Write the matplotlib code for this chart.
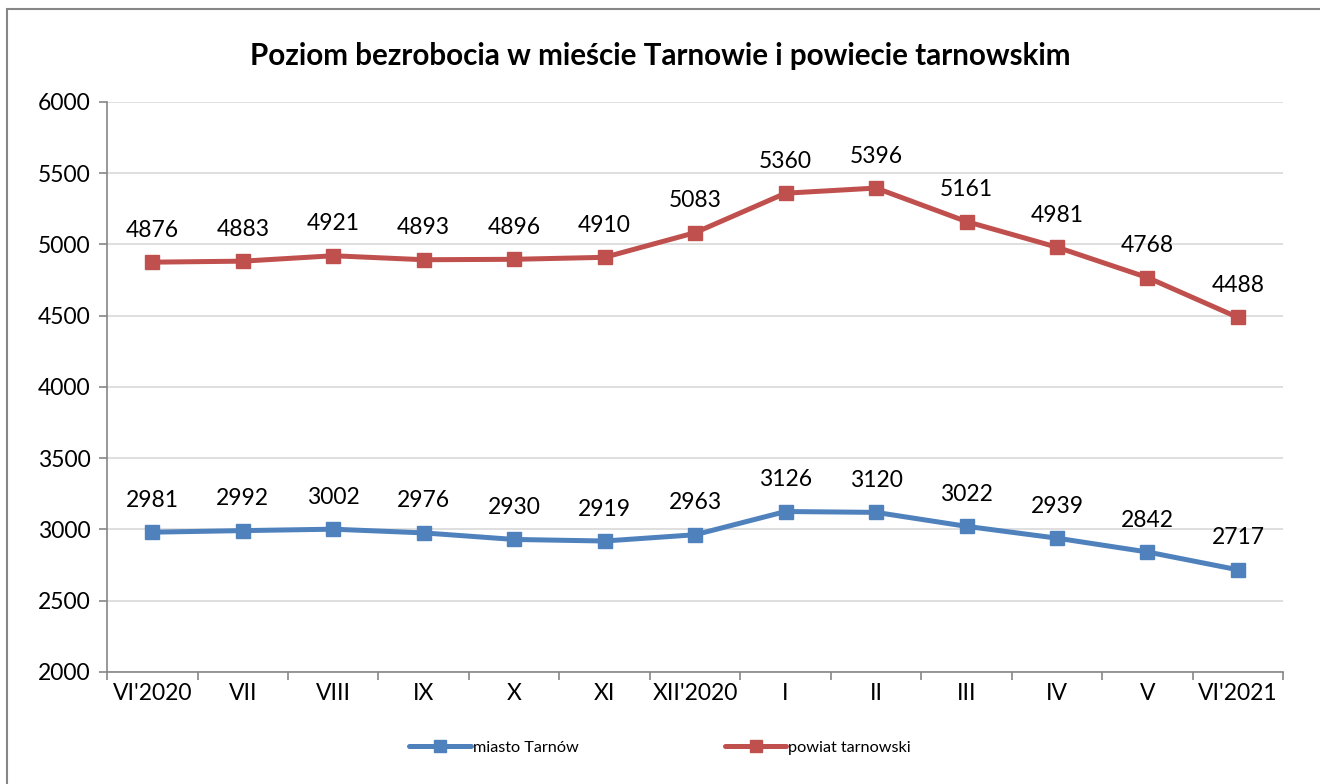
# Unemployment in Tarnów city and Tarnów county, VI 2020 - VI 2021

import matplotlib.pyplot as plt
from matplotlib.patches import Rectangle

plt.rcParams['font.family'] = ['Lato', 'DejaVu Sans']

# Data
months = ["VI'2020", 'VII', 'VIII', 'IX', 'X', 'XI', "XII'2020",
          'I', 'II', 'III', 'IV', 'V', "VI'2021"]
miasto = [2981, 2992, 3002, 2976, 2930, 2919, 2963, 3126, 3120, 3022, 2939, 2842, 2717]
powiat = [4876, 4883, 4921, 4893, 4896, 4910, 5083, 5360, 5396, 5161, 4981, 4768, 4488]

blue = '#4F81BD'
red = '#C0504D'
axis_gray = '#868686'

fig = plt.figure(figsize=(13.2, 7.84), dpi=100)
ax = fig.add_axes([0.0811, 0.1429, 0.891, 0.727])

x = list(range(len(months)))

# Lines with square markers
ax.plot(x, miasto, color=blue, lw=3.6, marker='s', markersize=10,
        solid_capstyle='round', label='miasto Tarnów', zorder=3)
ax.plot(x, powiat, color=red, lw=3.6, marker='s', markersize=10,
        solid_capstyle='round', label='powiat tarnowski', zorder=3)

# Value labels above the points
for xi, v in zip(x, miasto):
    ax.annotate(str(v), (xi, v), xytext=(0, 23), textcoords='offset points',
                ha='center', va='center', fontsize=16.5, color='black')
for xi, v in zip(x, powiat):
    ax.annotate(str(v), (xi, v), xytext=(0, 23), textcoords='offset points',
                ha='center', va='center', fontsize=16.5, color='black')

# Axes limits and ticks
ax.set_xlim(-0.5, len(months) - 0.5)
ax.set_ylim(2000, 6000)
ax.set_yticks(range(2000, 6001, 500))
ax.set_xticks([i - 0.5 for i in range(len(months) + 1)])
ax.set_xticklabels([])
ax.set_xticks(x, minor=True)
ax.set_xticklabels(months, minor=True)
ax.tick_params(axis='x', which='major', direction='out', length=6, color=axis_gray, width=1.2)
ax.tick_params(axis='x', which='minor', length=0, labelsize=16.5, pad=8)
ax.tick_params(axis='y', direction='out', length=6, color=axis_gray, width=1.2,
               labelsize=16.5, pad=6)

# Grid and spines
ax.grid(axis='y', color='#D9D9D9', lw=1.2, zorder=0)
ax.set_axisbelow(True)
for side in ['top', 'right']:
    ax.spines[side].set_visible(False)
for side in ['left', 'bottom']:
    ax.spines[side].set_color(axis_gray)
    ax.spines[side].set_linewidth(1.2)

# Title
fig.text(0.5, 0.928, 'Poziom bezrobocia w mieście Tarnowie i powiecie tarnowskim',
         ha='center', va='center', fontsize=21.3, fontweight='bold')

# Legend
fig.legend(loc='center', bbox_to_anchor=(0.5, 0.046), ncol=2, frameon=False,
           fontsize=11.7, handlelength=3.8, handletextpad=0.1, columnspacing=9,
           markerscale=0.8)

# Border round the chart area (right and bottom edges fall outside the image)
fig.patches.append(Rectangle((0.0053, -0.05), 1.1, 1.0391, transform=fig.transFigure,
                             fill=False, edgecolor=axis_gray, lw=1.5))

fig.savefig('out.png', dpi=100)
plt.close()
